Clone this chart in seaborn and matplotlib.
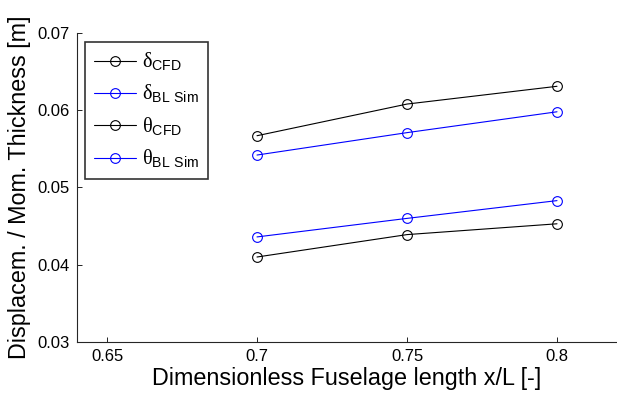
import pandas as pd
import seaborn as sns
import matplotlib.pyplot as plt

# x positions along the fuselage
x_pos = [0.7, 0.75, 0.8]

# thickness values
delta_cfd = [0.0567, 0.0608, 0.0631]
delta_bl = [0.0542, 0.0571, 0.0598]
theta_cfd = [0.0410, 0.0439, 0.0453]
theta_bl = [0.0436, 0.0460, 0.0483]

labels = [r'$\mathsf{δ}_{\mathrm{CFD}}$', r'$\mathsf{δ}_{\mathrm{BL\ Sim}}$',
          r'$\mathsf{θ}_{\mathrm{CFD}}$', r'$\mathsf{θ}_{\mathrm{BL\ Sim}}$']
colors = ['black', '#0000ff', 'black', '#0000ff']

sns.set_style('ticks')
plt.rcParams['font.family'] = ['Liberation Sans', 'DejaVu Sans']
plt.rcParams['mathtext.fontset'] = 'custom'
plt.rcParams['mathtext.rm'] = 'Liberation Sans'
plt.rcParams['mathtext.sf'] = 'Liberation Serif'
for k in ['text.color', 'axes.labelcolor', 'xtick.color', 'ytick.color']:
    plt.rcParams[k] = 'black'

fig = plt.figure(figsize=(6.17, 3.96), dpi=100)
ax = fig.add_axes([0.1248, 0.1364, 0.8752, 0.7803])

for vals, lab, col in zip([delta_cfd, delta_bl, theta_cfd, theta_bl], labels, colors):
    df = pd.DataFrame({'x': x_pos, 'y': vals})
    sns.lineplot(data=df, x='x', y='y', ax=ax, color=col, linewidth=0.8,
                 marker='o', markersize=7, markerfacecolor='none',
                 markeredgecolor=col, markeredgewidth=0.8, label=lab)

ax.set_xlim(0.64, 0.82)
ax.set_ylim(0.03, 0.07)
ax.set_xticks([0.65, 0.7, 0.75, 0.8])
ax.set_xticklabels(['0.65', '0.7', '0.75', '0.8'])
ax.set_yticks([0.03, 0.04, 0.05, 0.06, 0.07])
ax.set_yticklabels(['0.03', '0.04', '0.05', '0.06', '0.07'])
ax.tick_params(direction='in', length=3.5, width=0.6, labelsize=12, pad=5)
for s in ['top', 'right']:
    ax.spines[s].set_visible(False)
for s in ['left', 'bottom']:
    ax.spines[s].set_linewidth(0.8)

ax.set_xlabel('Dimensionless Fuselage length x/L [-]', fontsize=16.8, labelpad=2)
ax.set_ylabel('Displacem. / Mom. Thickness [m]', fontsize=16.8, labelpad=5)

leg = ax.legend(loc='upper left', bbox_to_anchor=(0.015, 0.972), borderaxespad=0,
                fontsize=14.5, frameon=True, fancybox=False, edgecolor='black',
                handlelength=2.1, handletextpad=0.3, labelspacing=0.5,
                borderpad=0.45)
leg.get_frame().set_linewidth(1.2)

fig.savefig('out.png', dpi=100)
